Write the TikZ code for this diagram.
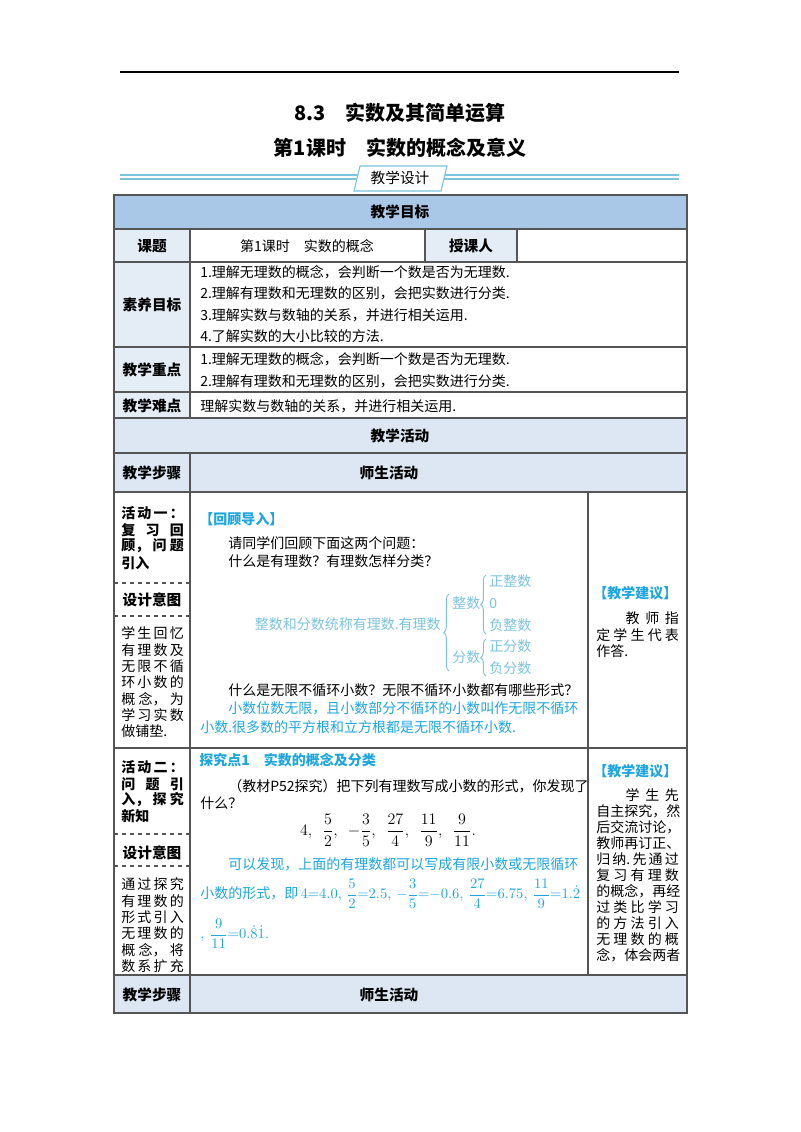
\documentclass[tikz,border=0pt]{standalone}
\usepackage{fontspec}
\setmainfont{Noto Sans CJK SC}
\usetikzlibrary{decorations.pathreplacing}
\definecolor{hdr}{HTML}{A9C8E8}
\definecolor{lab}{HTML}{E4ECF6}
\definecolor{act}{HTML}{DCE7F3}
\definecolor{tb}{HTML}{1EA6E0}
\definecolor{tl}{HTML}{7CC3E0}
\definecolor{grid}{HTML}{555555}
\tikzset{
 txt/.style={anchor=west,inner sep=0pt,font=\fontsize{10.5pt}{12pt}\selectfont},
 bt/.style={txt,text=tb},
 bold/.style={inner sep=0pt,font=\fontsize{11pt}{13pt}\selectfont\bfseries},
 lt/.style={inner sep=0pt,text=tl,font=\fontsize{10.5pt}{12pt}\selectfont},
 cell/.style={draw=grid,line width=0.8pt},
 dashline/.style={draw=grid,dashed,line width=0.8pt},
 ln/.style={inner sep=0pt,anchor=west,font=\fontsize{10.5pt}{12pt}\selectfont}
}
\newcommand{\spr}[1]{\makebox[47pt][s]{#1}}
\begin{document}
\begin{tikzpicture}[x=0.75pt,y=-0.75pt]
\useasboundingbox (0,0) rectangle (800,1132);
\fill[white] (0,0) rectangle (800,1132);
% top rule
\draw[line width=0.8pt] (120,72) -- (679,72);
\node[font=\fontsize{15pt}{17pt}\selectfont\bfseries] (t1) at (400,113) {8.3\quad 实数及其简单运算};
\node[font=\fontsize{15pt}{17pt}\selectfont\bfseries] (t2) at (400,148) {第1课时\quad 实数的概念及意义};
\draw[tl,line width=1.3pt] (120,175) -- (679,175);
\draw[tl,line width=1.3pt] (120,179) -- (679,179);
\fill[white,draw=tl,line width=0.8pt] (360,166) -- (447,166) -- (441,191) -- (354,191) -- cycle;
\node[font=\fontsize{11pt}{13pt}\selectfont] (t3) at (400,178) {教学设计};
% fills
\fill[hdr] (114,195) rectangle (687,229);
\fill[lab] (114,229) rectangle (190,418);
\fill[lab] (425,229) rectangle (517,262);
\fill[act] (114,418) rectangle (687,492);
\fill[act] (114,975) rectangle (687,1013);
% grid
\draw[cell] (114,195) rectangle (687,1013);
\foreach \y in {229,262,347,392,418,453,492,748,975} \draw[cell] (114,\y) -- (687,\y);
\draw[cell] (190,229) -- (190,418);
\draw[cell] (425,229) -- (425,262);
\draw[cell] (517,229) -- (517,262);
\draw[cell] (190,453) -- (190,1013);
\draw[cell] (588,492) -- (588,975);
\foreach \y in {583,616,834,866} \draw[dashline] (114,\y) -- (190,\y);
% header texts
\node[bold] (h1) at (400,212) {教学目标};
\node[bold] (k1) at (152,246) {课题};
\node[txt,anchor=center] (k2) at (307,246) {第1课时\quad 实数的概念};
\node[bold] (k3) at (471,246) {授课人};
\node[bold] (s1) at (152,305) {素养目标};
\node[txt] (s2) at (200,272) {1.理解无理数的概念，会判断一个数是否为无理数.};
\node[txt] (s3) at (200,293) {2.理解有理数和无理数的区别，会把实数进行分类.};
\node[txt] (s4) at (200,315) {3.理解实数与数轴的关系，并进行相关运用.};
\node[txt] (s5) at (200,336) {4.了解实数的大小比较的方法.};
\node[bold] (z1) at (152,370) {教学重点};
\node[txt] (z2) at (200,359) {1.理解无理数的概念，会判断一个数是否为无理数.};
\node[txt] (z3) at (200,381) {2.理解有理数和无理数的区别，会把实数进行分类.};
\node[bold] (n1) at (152,406) {教学难点};
\node[txt] (n2) at (200,406) {理解实数与数轴的关系，并进行相关运用.};
\node[bold] (h2) at (400,436) {教学活动};
\node[bold] (b1) at (152,473) {教学步骤};
\node[bold] (b2) at (389,473) {师生活动};
\node[bold] (b3) at (152,995) {教学步骤};
\node[bold] (b4) at (389,995) {师生活动};
% activity 1 left
\node[ln,font=\fontsize{10.5pt}{12pt}\selectfont\bfseries] (a1) at (121,513) {\spr{活\hfill 动\hfill 一\hfill ：}};
\node[ln,font=\fontsize{10.5pt}{12pt}\selectfont\bfseries] (a2) at (121,530) {\spr{复\hfill 习\hfill 回}};
\node[ln,font=\fontsize{10.5pt}{12pt}\selectfont\bfseries] (a3) at (121,546) {\spr{顾，\hfill 问\hfill 题}};
\node[ln,font=\fontsize{10.5pt}{12pt}\selectfont\bfseries] (a4) at (121,563) {引入};
\node[bold] (a5) at (152,600) {设计意图};
\node[ln] (a6) at (121,633) {\spr{学\hfill 生\hfill 回\hfill 忆}};
\node[ln] (a7) at (121,650) {\spr{有\hfill 理\hfill 数\hfill 及}};
\node[ln] (a8) at (121,666) {\spr{无\hfill 限\hfill 不\hfill 循}};
\node[ln] (a9) at (121,682) {\spr{环\hfill 小\hfill 数\hfill 的}};
\node[ln] (a10) at (121,699) {\spr{概\hfill 念，\hfill 为}};
\node[ln] (a11) at (121,715) {\spr{学\hfill 习\hfill 实\hfill 数}};
\node[ln] (a12) at (121,731) {做铺垫.};
% activity 1 middle
\node[bt,font=\fontsize{10.5pt}{12pt}\selectfont\bfseries] (m1) at (199,519) {【回顾导入】};
\node[txt] (m2) at (228,543) {请同学们回顾下面这两个问题：};
\node[txt] (m3) at (228,561) {什么是有理数？有理数怎样分类？};
\node[lt,anchor=east] (d0) at (441,624) {整数和分数统称有理数.有理数};
\node[lt,anchor=west] (d1) at (452,603) {整数};
\node[lt,anchor=west] (d2) at (452,657) {分数};
\node[lt,anchor=west] (d3) at (489,581) {正整数};
\node[lt,anchor=west] (d4) at (489,603) {0};
\node[lt,anchor=west] (d5) at (489,625) {负整数};
\node[lt,anchor=west] (d6) at (489,646) {正分数};
\node[lt,anchor=west] (d7) at (489,668) {负分数};
\draw[tl,line width=0.7pt,decorate,decoration={brace,amplitude=4pt}] (449,671) -- (449,594);
\draw[tl,line width=0.7pt,decorate,decoration={brace,amplitude=4pt}] (486,634) -- (486,575);
\draw[tl,line width=0.7pt,decorate,decoration={brace,amplitude=4pt}] (486,676) -- (486,639);
\node[txt] (m4) at (228,690) {什么是无限不循环小数？无限不循环小数都有哪些形式？};
\node[bt] (m5) at (228,708) {小数位数无限，且小数部分不循环的小数叫作无限不循环};
\node[bt] (m6) at (200,727) {小数.很多数的平方根和立方根都是无限不循环小数.};
% activity 1 right
\node[bt,font=\fontsize{10.5pt}{12pt}\selectfont\bfseries] (r1) at (593,593) {【教学建议】};
\node[ln] (r2) at (596,618) {\makebox[62pt][s]{\hspace{22pt}教\hfill 师\hfill 指}};
\node[ln] (r3) at (596,635) {\makebox[62pt][s]{定\hfill 学\hfill 生\hfill 代\hfill 表}};
\node[ln] (r4) at (596,651) {作答.};
% activity 2 left
\node[ln,font=\fontsize{10.5pt}{12pt}\selectfont\bfseries] (c1) at (121,767) {\spr{活\hfill 动\hfill 二\hfill ：}};
\node[ln,font=\fontsize{10.5pt}{12pt}\selectfont\bfseries] (c2) at (121,784) {\spr{问\hfill 题\hfill 引}};
\node[ln,font=\fontsize{10.5pt}{12pt}\selectfont\bfseries] (c3) at (121,800) {\spr{入，\hfill 探\hfill 究}};
\node[ln,font=\fontsize{10.5pt}{12pt}\selectfont\bfseries] (c4) at (121,816) {新知};
\node[bold] (c5) at (152,853) {设计意图};
\node[ln] (c6) at (121,884) {\spr{通\hfill 过\hfill 探\hfill 究}};
\node[ln] (c7) at (121,901) {\spr{有\hfill 理\hfill 数\hfill 的}};
\node[ln] (c8) at (121,917) {\spr{形\hfill 式\hfill 引\hfill 入}};
\node[ln] (c9) at (121,933) {\spr{无\hfill 理\hfill 数\hfill 的}};
\node[ln] (c10) at (121,950) {\spr{概\hfill 念，\hfill 将}};
\node[ln] (c11) at (121,966) {\spr{数\hfill 系\hfill 扩\hfill 充}};
% activity 2 middle
\node[bt,font=\fontsize{10.5pt}{12pt}\selectfont\bfseries] (e1) at (199,760) {探究点1\quad 实数的概念及分类};
\node[txt] (e2) at (228,786) {（教材P52探究）把下列有理数写成小数的形式，你发现了};
\node[txt] (e3) at (200,803) {什么？};
\node[txt,anchor=center,font=\fontsize{12.5pt}{14pt}\selectfont] (e4) at (388,830) {$\displaystyle 4,\ \ \frac{5}{2},\ \ -\frac{3}{5},\ \ \frac{27}{4},\ \ \frac{11}{9},\ \ \frac{9}{11}.$};
\node[bt] (e5) at (228,864) {可以发现，上面的有理数都可以写成有限小数或无限循环};
\node[bt] (e6) at (200,894) {小数的形式，即\,$\displaystyle 4{=}4.0,\,\frac{5}{2}{=}2.5,\,-\frac{3}{5}{=}{-}0.6,\,\frac{27}{4}{=}6.75,\,\frac{11}{9}{=}1.\dot{2}$};
\node[bt] (e7) at (200,934) {$\displaystyle ,\ \frac{9}{11}{=}0.\dot{8}\dot{1}.$};
% activity 2 right
\node[bt,font=\fontsize{10.5pt}{12pt}\selectfont\bfseries] (f1) at (593,771) {【教学建议】};
\node[ln] (f2) at (596,795) {\makebox[62pt][s]{\hspace{22pt}学\hfill 生\hfill 先}};
\node[ln] (f3) at (596,811) {\makebox[62pt][s]{自\hfill 主\hfill 探\hfill 究，\hfill 然}};
\node[ln] (f4) at (596,827) {\makebox[62pt][s]{后\hfill 交\hfill 流\hfill 讨\hfill 论，}};
\node[ln] (f5) at (596,843) {\makebox[62pt][s]{教\hfill 师\hfill 再\hfill 订\hfill 正、}};
\node[ln] (f6) at (596,859) {\makebox[62pt][s]{归\hfill 纳.\hfill 先\hfill 通\hfill 过}};
\node[ln] (f7) at (596,875) {\makebox[62pt][s]{复\hfill 习\hfill 有\hfill 理\hfill 数}};
\node[ln] (f8) at (596,891) {\makebox[62pt][s]{的\hfill 概\hfill 念，\hfill 再\hfill 经}};
\node[ln] (f9) at (596,907) {\makebox[62pt][s]{过\hfill 类\hfill 比\hfill 学\hfill 习}};
\node[ln] (f10) at (596,923) {\makebox[62pt][s]{的\hfill 方\hfill 法\hfill 引\hfill 入}};
\node[ln] (f11) at (596,939) {\makebox[62pt][s]{无\hfill 理\hfill 数\hfill 的\hfill 概}};
\node[ln] (f12) at (596,955) {\makebox[62pt][s]{念，\hfill 体\hfill 会\hfill 两\hfill 者}};
\end{tikzpicture}
\end{document}
